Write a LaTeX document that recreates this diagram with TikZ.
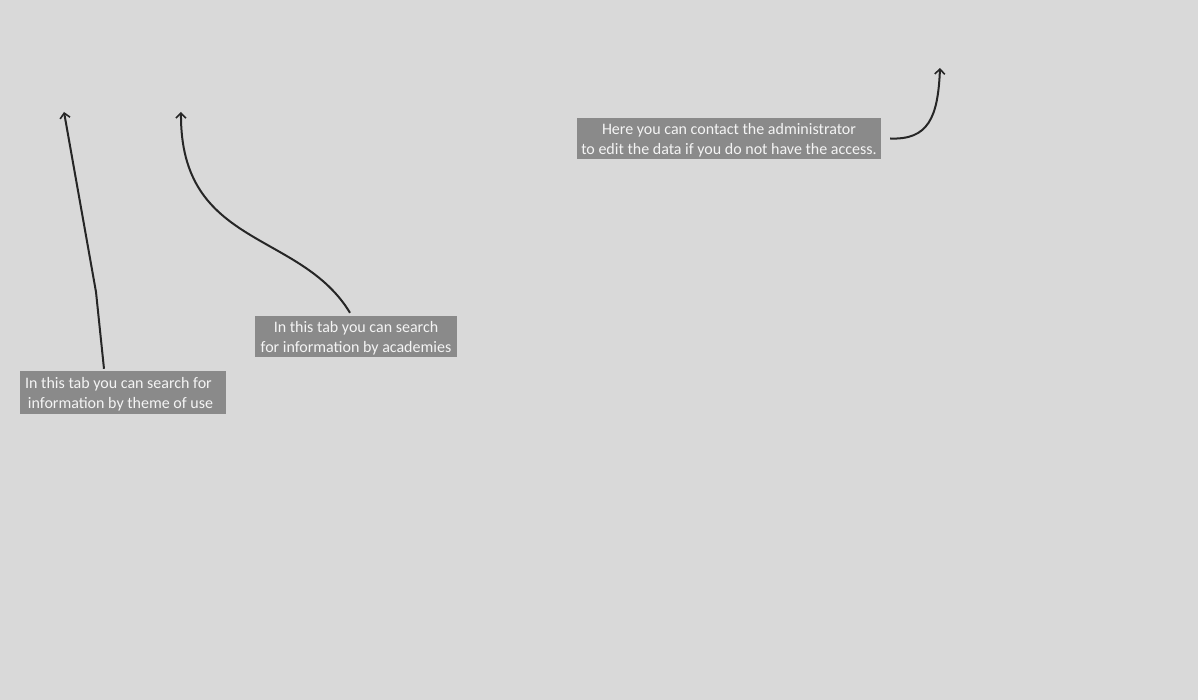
\documentclass[tikz,border=0pt]{standalone}
\usepackage{fontspec}
\setmainfont{Carlito}
\usetikzlibrary{arrows.meta}
\definecolor{bg}{HTML}{D9D9D9}
\definecolor{boxfill}{HTML}{8A8A8A}
\definecolor{boxtext}{HTML}{F4F4F4}
\definecolor{linec}{HTML}{262626}
\newcommand{\notestrut}{\rule{0pt}{15pt}}
\tikzset{
  note/.style={fill=boxfill, text=boxtext, align=center, inner sep=0pt,
    font=\fontsize{16}{20}\selectfont},
  pointer/.style={draw=linec, line width=2pt, -{Straight Barb[length=5pt,width=10pt,line width=1.6pt]}}
}
\begin{document}
\begin{tikzpicture}[x=1pt,y=-1pt]
\fill[bg] (0,0) rectangle (1198,700);
\useasboundingbox (0,0) rectangle (1198,700);
\node[note, minimum width=206pt, minimum height=43pt] (box1) at (123,392.5) {\notestrut In this tab you can search for\hspace*{9pt}\\information by theme of use\hspace*{5pt}};
\node[note, minimum width=202pt, minimum height=41pt] (box2) at (356,336.5) {\notestrut In this tab you can search\\for information by academies};
\node[note, minimum width=304pt, minimum height=41pt] (box3) at (729,138.5) {\notestrut Here you can contact the administrator\\to edit the data if you do not have the access.};
\coordinate (t1) at (64,112);
\coordinate (t2) at (181,112);
\coordinate (t3) at (940,68);
\coordinate (k1) at (96,292);
\draw[pointer] ([xshift=-19pt,yshift=2pt]box1.north) -- (k1) -- (t1);
\draw[pointer] ([xshift=-6pt,yshift=3pt]box2.north) .. controls (300,230) and (180,248) .. (t2);
\draw[pointer] ([xshift=9pt]box3.east) .. controls (928,140) and (938,118) .. (t3);
\end{tikzpicture}
\end{document}
